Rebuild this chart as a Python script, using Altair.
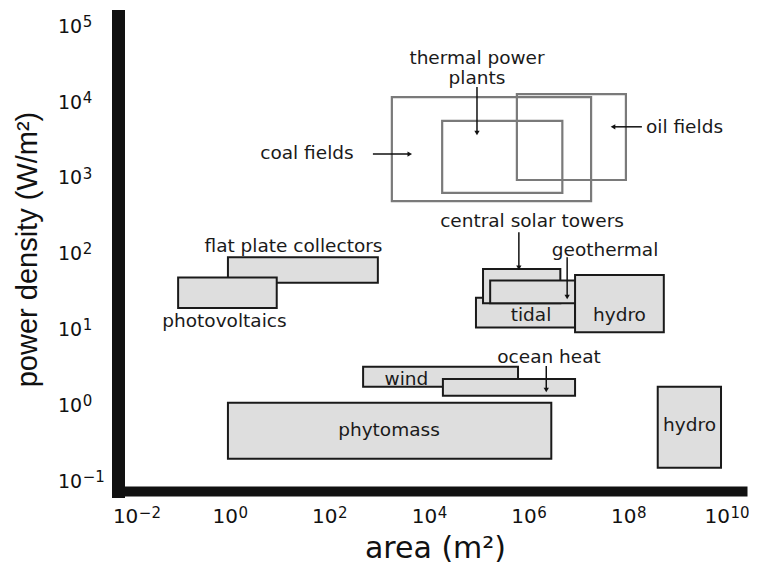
import altair as alt
import pandas as pd

# ---------------- data ----------------
# Unfilled (outline) boxes
outline_names = ["coal fields", "thermal power plants", "oil fields"]
outline_area_min = [1.7e3, 1.74e4, 5.5e5]
outline_area_max = [1.7e7, 4.5e6, 8.5e7]
outline_pd_min = [490, 630, 930]
outline_pd_max = [1.15e4, 5.6e3, 1.26e4]

# Filled boxes (drawn in this order)
filled_names = ["flat plate collectors", "photovoltaics", "tidal", "central solar towers",
                "geothermal", "hydro (small)", "wind", "ocean heat", "phytomass", "hydro (large)"]
filled_area_min = [0.87, 0.087, 8.3e4, 1.15e5, 1.6e5, 8.1e6, 450, 1.8e4, 0.87, 3.7e8]
filled_area_max = [890, 8.3, 8.1e6, 4.1e6, 1.6e7, 4.9e8, 5.8e5, 8.1e6, 2.7e6, 6.9e9]
filled_pd_min = [41, 19, 10.5, 22, 22, 9.1, 1.74, 1.32, 0.195, 0.148]
filled_pd_max = [89, 48, 26, 62, 44, 52, 3.2, 2.2, 1.07, 1.74]

# Text labels (centred)
label_texts = ["coal fields", "thermal power", "plants", "flat plate collectors", "photovoltaics",
               "central solar towers", "geothermal", "tidal", "hydro", "ocean heat", "wind",
               "phytomass", "hydro"]
label_area = [33.6, 8.7e4, 8.7e4, 18, 0.74, 1.107e6, 3.24e7, 1.057e6, 6.3e7, 2.43e6, 3340, 1490, 1.61e9]
label_pd = [2113, 3.79e4, 2.06e4, 125, 12.8, 267, 111, 15.4, 15.4, 4.3, 2.2, 0.468, 0.545]

# Left-aligned label
left_label_texts = ["oil fields"]
left_label_area = [2.15e8]
left_label_pd = [4656]

# Arrows: start -> tip
arrow_names = ["coal fields", "thermal power plants", "oil fields", "central solar towers", "geothermal", "ocean heat"]
arrow_area_start = [708, 8.7e4, 1.78e8, 6.03e5, 5.62e6, 2.14e6]
arrow_pd_start = [2042, 1.57e4, 4677, 190.5, 89, 3.27]
arrow_area_tip = [3890, 8.7e4, 4.68e7, 6.03e5, 5.62e6, 2.14e6]
arrow_pd_tip = [2042, 3873, 4677, 64.6, 26.6, 1.58]
arrow_head = ["triangle-right", "triangle-down", "triangle-left", "triangle-down", "triangle-down", "triangle-down"]

# Axes: tick values, base text and exponent text
x_tick_values = [1e-2, 1e0, 1e2, 1e4, 1e6, 1e8, 1e10]
x_tick_base = ["10", "10", "10", "10", "10", "10", "10"]
x_tick_sup = ["\u22122", "0", "2", "4", "6", "8", "10"]
y_tick_values = [1e-1, 1e0, 1e1, 1e2, 1e3, 1e4, 1e5]
y_tick_base = ["10", "10", "10", "10", "10", "10", "10"]
y_tick_sup = ["\u22121", "0", "1", "2", "3", "4", "5"]
x_domain = [5.4e-3, 1.82e10]
y_domain = [0.0733, 1.355e5]
x_title = "area (m²)"
y_title = "power density (W/m²)"

# ---------------- build ----------------
FONT = "DejaVu Sans"
INK = "#111111"
W, H = 624, 475

xs = alt.Scale(type="log", domain=x_domain, nice=False)
ys = alt.Scale(type="log", domain=y_domain, nice=False)

x_axis = alt.Axis(values=x_tick_values, labels=False,
                  title=x_title, grid=False, ticks=False, tickSize=0,
                  domainWidth=10, domainColor=INK, domainCap="square",
                  titleFont=FONT, titleFontSize=30, titleFontWeight="normal", titleColor=INK,
                  titleX=317, titleY=66, titleBaseline="alphabetic", titleAlign="center")
y_axis = alt.Axis(values=y_tick_values, labels=False,
                  title=y_title, grid=False, ticks=False, tickSize=0,
                  domainWidth=13, domainColor=INK, domainCap="square",
                  titleFont="Liberation Sans", titleFontSize=29, titleFontWeight="normal",
                  titleColor=INK, titleX=-82, titleY=233, titleAngle=270,
                  titleBaseline="alphabetic", titleAlign="center")


def X(field):
    return alt.X(field, scale=xs, axis=x_axis)


def Y(field):
    return alt.Y(field, scale=ys, axis=y_axis)


outline_df = pd.DataFrame({"name": outline_names, "x1": outline_area_min, "x2": outline_area_max,
                           "y1": outline_pd_min, "y2": outline_pd_max})
filled_df = pd.DataFrame({"name": filled_names, "x1": filled_area_min, "x2": filled_area_max,
                          "y1": filled_pd_min, "y2": filled_pd_max})
label_df = pd.DataFrame({"t": label_texts, "x": label_area, "y": label_pd})
left_label_df = pd.DataFrame({"t": left_label_texts, "x": left_label_area, "y": left_label_pd})
arrow_df = pd.DataFrame({"name": arrow_names, "x1": arrow_area_start, "y1": arrow_pd_start,
                         "x2": arrow_area_tip, "y2": arrow_pd_tip, "head": arrow_head})
xt_df = pd.DataFrame({"v": x_tick_values, "base": x_tick_base, "sup": x_tick_sup,
                      "wide": [len(s) > 1 and s[0] != "\u2212" for s in x_tick_sup]})
yt_df = pd.DataFrame({"v": y_tick_values, "base": y_tick_base, "sup": y_tick_sup})

outline = alt.Chart(outline_df).mark_rect(fill=None, stroke="#7a7a7a", strokeWidth=2.2).encode(
    x=X("x1:Q"), x2="x2:Q", y=Y("y1:Q"), y2="y2:Q",
)

filled = alt.Chart(filled_df).mark_rect(fill="#dedede", stroke="#1a1a1a", strokeWidth=2).encode(
    x=X("x1:Q"), x2="x2:Q", y=Y("y1:Q"), y2="y2:Q",
)

arrow_lines = alt.Chart(arrow_df).mark_rule(color=INK, strokeWidth=1.5).encode(
    x=X("x1:Q"), x2="x2:Q", y=Y("y1:Q"), y2="y2:Q",
)

heads = []
for shp in ["triangle-right", "triangle-down", "triangle-left"]:
    heads.append(
        alt.Chart(arrow_df).transform_filter(alt.datum.head == shp)
        .mark_point(shape=shp, filled=True, color=INK, size=28, opacity=1)
        .encode(x=X("x2:Q"), y=Y("y2:Q"))
    )

labels = alt.Chart(label_df).mark_text(font=FONT, fontSize=18.5, color="#1a1a1a",
                                       align="center", baseline="middle").encode(
    x=X("x:Q"), y=Y("y:Q"), text="t:N",
)
left_labels = alt.Chart(left_label_df).mark_text(font=FONT, fontSize=18.5, color="#1a1a1a",
                                                 align="left", baseline="middle").encode(
    x=X("x:Q"), y=Y("y:Q"), text="t:N",
)

# x tick labels: "10" + raised exponent, centred on the tick
tick_layers = []
for wide, dx in [(False, 7), (True, 1)]:
    sub = alt.Chart(xt_df).transform_filter(alt.datum.wide == wide)
    tick_layers.append(
        sub.mark_text(font=FONT, fontSize=20, color=INK, align="right", baseline="alphabetic", dx=dx)
        .encode(x=X("v:Q"), y=alt.value(H + 31.5), text="base:N")
    )
    tick_layers.append(
        sub.mark_text(font=FONT, fontSize=15, color=INK, align="left", baseline="alphabetic", dx=dx + 0.5)
        .encode(x=X("v:Q"), y=alt.value(H + 26.8), text="sup:N")
    )

# y tick labels: left aligned
tick_layers.append(
    alt.Chart(yt_df).mark_text(font=FONT, fontSize=19, color=INK, align="left", baseline="alphabetic", dy=6.9)
    .encode(x=alt.value(-60), y=Y("v:Q"), text="base:N")
)
tick_layers.append(
    alt.Chart(yt_df).mark_text(font=FONT, fontSize=15, color=INK, align="left", baseline="alphabetic", dy=1)
    .encode(x=alt.value(-35.3), y=Y("v:Q"), text="sup:N")
)

chart = alt.layer(outline, filled, arrow_lines, *heads, labels, left_labels, *tick_layers).properties(
    width=W, height=H,
    background="white",
    autosize=alt.AutoSizeParams(type="none"),
    padding={"left": 110, "top": 8, "right": 7, "bottom": 72},
).configure_view(strokeWidth=0)

chart.save("out.html", embed_options={"renderer": "svg", "actions": False})
